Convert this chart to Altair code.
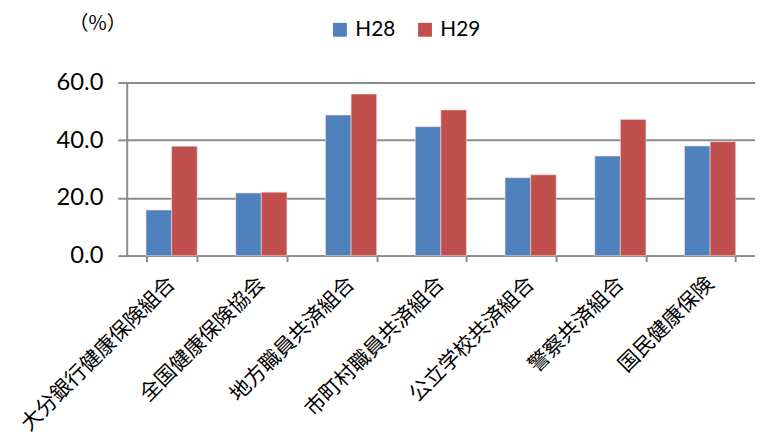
import altair as alt
import pandas as pd

categories = ["大分銀行健康保険組合", "全国健康保険協会", "地方職員共済組合", "市町村職員共済組合",
              "公立学校共済組合", "警察共済組合", "国民健康保険"]
h28 = [15.8, 21.7, 48.7, 44.7, 27.0, 34.5, 38.0]
h29 = [37.9, 22.0, 56.0, 50.5, 28.0, 47.2, 39.5]
series = ["H28", "H29"]
colors = ["#4F81BD", "#C0504D"]

rows = []
for i, c in enumerate(categories):
    rows.append({"cat": c, "series": "H28", "value": h28[i]})
    rows.append({"cat": c, "series": "H29", "value": h29[i]})
df = pd.DataFrame(rows)

grid = "#8c8c8c"

chart = alt.Chart(df).mark_bar(stroke="#f2dcdb", strokeWidth=0.6).encode(
    x=alt.X("cat:N", sort=categories, title=None,
            scale=alt.Scale(paddingInner=0.43, paddingOuter=0.215),
            axis=alt.Axis(labelAngle=-45, labelAlign="right", labelBaseline="middle",
                          labelFont="Noto Sans CJK JP", labelFontSize=21, labelColor="#000000",
                          labelPadding=19, labelLimit=0,
                          tickBand="extent", tickSize=6, tickColor=grid,
                          tickWidth=2, domainColor=grid, domainWidth=2, grid=False)),
    xOffset=alt.XOffset("series:N", sort=series),
    y=alt.Y("value:Q", scale=alt.Scale(domain=[0, 60], nice=False),
            axis=alt.Axis(values=[0, 20, 40, 60], format=".1f", title="（%）",
                          titleAngle=0, titleX=-30, titleY=-60, titleAlign="center",
                          titleBaseline="middle", titleFont="Noto Sans CJK JP",
                          titleFontSize=20, titleFontWeight="normal", titleColor="#000000",
                          labelFont="Lato", labelFontSize=24, labelColor="#000000",
                          labelPadding=15, tickSize=9, tickColor=grid, tickWidth=2,
                          domainColor=grid, domainWidth=2,
                          grid=True, gridColor=grid, gridWidth=2)),
    color=alt.Color("series:N", sort=series,
                    scale=alt.Scale(domain=series, range=colors),
                    legend=alt.Legend(title=None, orient="none", direction="horizontal",
                                      legendX=205, legendY=-64, symbolType="square",
                                      symbolSize=196, symbolStrokeWidth=0,
                                      labelFont="Lato", labelFontSize=21,
                                      labelColor="#000000", labelOffset=5,
                                      columnPadding=19)),
).properties(
    width=635, height=175,
    autosize=alt.AutoSizeParams(type="none"),
    padding={"left": 120, "top": 73, "right": 0, "bottom": 178},
).configure_view(stroke=None)

chart.save("out.html", embed_options={"renderer": "svg", "actions": False})
